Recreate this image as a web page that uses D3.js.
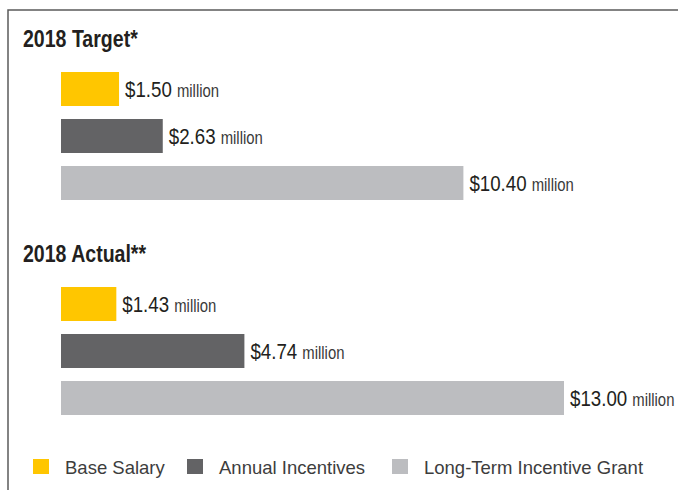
<!DOCTYPE html>
<meta charset="utf-8">
<head>
<script src="https://d3js.org/d3.v7.min.js"></script>
<style>
  body { margin: 0; background: #fff; }
  .title { font-family: "Liberation Sans", Arial, sans-serif; font-weight: bold; font-size: 23px; fill: #231f20; }
  .num { font-family: "Liberation Sans", Arial, sans-serif; font-size: 22px; fill: #231f20; }
  .unit { font-size: 17.5px; fill: #3a3a3a; }
  .legend { font-family: "Liberation Sans", Arial, sans-serif; font-size: 18.5px; fill: #3d3d3d; }
</style>
</head>
<body>
<div class="viz"></div>
<script>
// data (millions of dollars)
var categories = ["Base Salary", "Annual Incentives", "Long-Term Incentive Grant"];
var groups = ["2018 Target*", "2018 Actual**"];
var targetValues = [1.50, 2.63, 10.40];
var actualValues = [1.43, 4.74, 13.00];
var colors = ["#ffc600", "#636365", "#bcbdc0"];

var width = 678, height = 490;
var narrow = 0.85; // fake a condensed face, no narrow font installed

var svg = d3.select("div.viz").append("svg")
    .attr("width", width)
    .attr("height", height);

// frame: left and top rule
svg.append("path")
    .attr("d", "M8," + height + "V10H" + width)
    .attr("fill", "none")
    .attr("stroke", "#5b5b5b")
    .attr("stroke-width", 1.5);

var x = d3.scaleLinear().domain([0, 13]).range([61, 564]);
var color = d3.scaleOrdinal().domain(categories).range(colors);

// top of each group's first bar
var yGroup = d3.scalePoint().domain(groups).range([72, 287]);
// bars within a group
var yBar = d3.scaleBand().domain(categories).range([0, 128]).paddingInner(13 / 47);

var data = [
    { name: groups[0], values: targetValues },
    { name: groups[1], values: actualValues }
];

var g = svg.selectAll("g.group")
    .data(data)
    .enter().append("g")
    .attr("class", "group")
    .attr("transform", function(d) { return "translate(0," + yGroup(d.name) + ")"; });

g.append("text")
    .attr("class", "title")
    .attr("transform", "translate(23,-25) scale(" + narrow + ",1)")
    .text(function(d) { return d.name; });

var rows = g.selectAll("g.row")
    .data(function(d) {
        return d.values.map(function(v, i) { return { cat: categories[i], value: v }; });
    })
    .enter().append("g")
    .attr("class", "row")
    .attr("transform", function(d) { return "translate(0," + yBar(d.cat) + ")"; });

rows.append("rect")
    .attr("x", x(0))
    .attr("width", function(d) { return x(d.value) - x(0); })
    .attr("height", yBar.bandwidth())
    .attr("fill", function(d) { return color(d.cat); });

var lbl = rows.append("text")
    .attr("class", "num")
    .attr("transform", function(d) {
        return "translate(" + (x(d.value) + 6) + ",25) scale(" + narrow + ",1)";
    });
lbl.append("tspan")
    .text(function(d) { return "$" + d.value.toFixed(2); });
lbl.append("tspan")
    .attr("class", "unit")
    .attr("dx", 6)
    .text("million");

// legend
var legendX = [33, 187, 392];
var legend = svg.selectAll("g.leg")
    .data(categories)
    .enter().append("g")
    .attr("class", "leg")
    .attr("transform", function(d, i) { return "translate(" + legendX[i] + ",0)"; });
legend.append("rect")
    .attr("y", 459)
    .attr("width", 16)
    .attr("height", 15)
    .attr("fill", function(d) { return color(d); });
legend.append("text")
    .attr("class", "legend")
    .attr("x", 32)
    .attr("y", 474)
    .text(function(d) { return d; });
</script>
</body>
